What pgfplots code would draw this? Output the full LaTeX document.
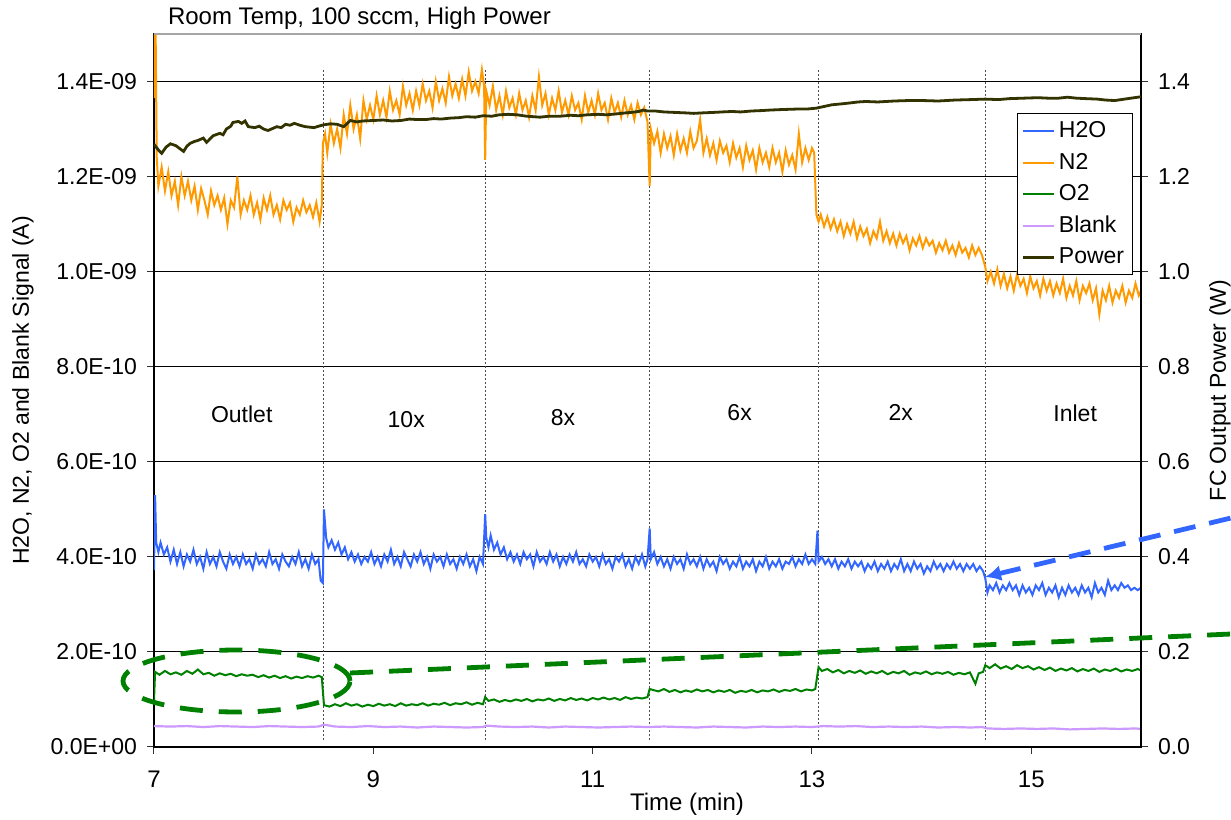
\documentclass[border=0pt]{standalone}
\usepackage{pgfplots}
\pgfplotsset{compat=1.18}
\usepackage{fontspec}
\setmainfont{Liberation Sans}
\usetikzlibrary{arrows.meta}
\definecolor{h2o}{RGB}{51,102,255}
\definecolor{n2}{RGB}{255,153,0}
\definecolor{o2}{RGB}{0,128,0}
\definecolor{blank}{RGB}{204,153,255}
\definecolor{power}{RGB}{51,51,0}
\newcommand{\fs}[1]{\fontsize{#1}{#1}\selectfont}
\begin{document}
\begin{tikzpicture}
\begin{axis}[
  scale only axis, width=493.5pt, height=356.5pt,
  xmin=7, xmax=16, ymin=0, ymax=15,
  xtick={7,9,11,13,15}, xticklabels={7,9,11,13,15},
  ytick={0,2,4,6,8,10,12,14},
  yticklabels={0.0E+00,2.0E-10,4.0E-10,6.0E-10,8.0E-10,1.0E-09,1.2E-09,1.4E-09},
  xtick pos=bottom, ytick pos=left,
  tick align=outside, major tick length=3.5pt,
  tick style={black!80, line width=0.5pt},
  ymajorgrids, grid style={black, line width=0.5pt},
  axis line style={black, line width=0.7pt},
  yticklabel style={font=\fs{11.5}, xshift=-1.5pt},
  xticklabel style={font=\fs{12}, yshift=-5pt},
  clip=true,
]
% dotted separators
\draw[black!70, line width=0.5pt, dash pattern=on 0.8pt off 1.2pt] (axis cs:8.55,0.15) -- (axis cs:8.55,14.26);
\draw[black!70, line width=0.5pt, dash pattern=on 0.8pt off 1.2pt] (axis cs:10.02,0.15) -- (axis cs:10.02,14.26);
\draw[black!70, line width=0.5pt, dash pattern=on 0.8pt off 1.2pt] (axis cs:11.52,0.15) -- (axis cs:11.52,14.26);
\draw[black!70, line width=0.5pt, dash pattern=on 0.8pt off 1.2pt] (axis cs:13.06,0.15) -- (axis cs:13.06,14.26);
\draw[black!70, line width=0.5pt, dash pattern=on 0.8pt off 1.2pt] (axis cs:14.58,0.15) -- (axis cs:14.58,14.26);
% Blank
\addplot[blank, line width=1.1pt] coordinates {
(7.00,0.44) (7.15,0.43) (7.30,0.44) (7.45,0.42) (7.60,0.44) (7.75,0.43) (7.90,0.42) (8.05,0.44) (8.20,0.43) (8.35,0.42) (8.50,0.43)
(8.55,0.47) (8.65,0.43) (8.80,0.42) (8.95,0.44) (9.10,0.42) (9.25,0.43) (9.40,0.41) (9.55,0.43) (9.70,0.42) (9.85,0.41) (10.00,0.42)
(10.03,0.45) (10.15,0.43) (10.30,0.42) (10.45,0.43) (10.60,0.41) (10.75,0.43) (10.90,0.42) (11.05,0.41) (11.20,0.42) (11.35,0.43) (11.50,0.42)
(11.65,0.43) (11.80,0.42) (11.95,0.41) (12.10,0.43) (12.25,0.42) (12.40,0.41) (12.55,0.43) (12.70,0.42) (12.85,0.43) (13.00,0.42)
(13.10,0.44) (13.25,0.43) (13.40,0.44) (13.55,0.42) (13.70,0.43) (13.85,0.42) (14.00,0.43) (14.15,0.41) (14.30,0.42) (14.45,0.41) (14.55,0.42)
(14.60,0.39) (14.75,0.38) (14.90,0.39) (15.05,0.38) (15.20,0.39) (15.35,0.37) (15.50,0.38) (15.65,0.39) (15.80,0.38) (15.95,0.39) (16.00,0.38)
};
% O2
\addplot[o2, line width=1pt] coordinates {
(7.00,0.98) (7.01,1.58) (7.05,1.52) (7.10,1.60) (7.15,1.53) (7.20,1.57) (7.25,1.52) (7.30,1.60) (7.35,1.54) (7.40,1.63) (7.45,1.53)
(7.50,1.56) (7.55,1.50) (7.60,1.55) (7.65,1.51) (7.70,1.54) (7.75,1.49) (7.80,1.53) (7.85,1.50) (7.90,1.52) (7.95,1.47) (8.00,1.51)
(8.05,1.46) (8.10,1.50) (8.15,1.45) (8.20,1.49) (8.25,1.44) (8.30,1.48) (8.35,1.45) (8.40,1.49) (8.45,1.46) (8.50,1.50) (8.53,1.47)
(8.55,0.88) (8.60,0.85) (8.65,0.90) (8.70,0.86) (8.75,0.92) (8.80,0.87) (8.85,0.90) (8.90,0.85) (8.95,0.89) (9.00,0.86) (9.05,0.91)
(9.10,0.87) (9.15,0.90) (9.20,0.86) (9.25,0.92) (9.30,0.87) (9.35,0.90) (9.40,0.88) (9.45,0.92) (9.50,0.87) (9.55,0.91) (9.60,0.89)
(9.65,0.93) (9.70,0.88) (9.75,0.92) (9.80,0.90) (9.85,0.94) (9.90,0.89) (9.95,0.93) (10.00,0.90)
(10.02,1.05) (10.05,0.97) (10.10,1.00) (10.15,0.95) (10.20,0.99) (10.25,0.96) (10.30,1.00) (10.35,0.97) (10.40,1.01) (10.45,0.96)
(10.50,1.00) (10.55,0.98) (10.60,1.02) (10.65,0.97) (10.70,1.01) (10.75,0.98) (10.80,1.03) (10.85,0.99) (10.90,1.02) (10.95,0.98)
(11.00,1.03) (11.05,1.00) (11.10,1.04) (11.15,1.00) (11.20,1.03) (11.25,0.99) (11.30,1.05) (11.35,1.01) (11.40,1.04) (11.45,1.02) (11.50,1.05)
(11.52,1.22) (11.55,1.20) (11.60,1.17) (11.65,1.22) (11.70,1.16) (11.75,1.20) (11.80,1.15) (11.85,1.19) (11.90,1.16) (11.95,1.21)
(12.00,1.17) (12.05,1.20) (12.10,1.15) (12.15,1.19) (12.20,1.16) (12.25,1.20) (12.30,1.14) (12.35,1.18) (12.40,1.16) (12.45,1.20)
(12.50,1.15) (12.55,1.19) (12.60,1.17) (12.65,1.21) (12.70,1.16) (12.75,1.20) (12.80,1.18) (12.85,1.22) (12.90,1.17) (12.95,1.21) (13.00,1.19) (13.03,1.22)
(13.06,1.68) (13.09,1.60) (13.14,1.64) (13.19,1.57) (13.24,1.62) (13.29,1.55) (13.34,1.60) (13.39,1.56) (13.44,1.61) (13.49,1.54)
(13.54,1.59) (13.59,1.55) (13.64,1.60) (13.69,1.53) (13.74,1.58) (13.79,1.55) (13.84,1.60) (13.89,1.52) (13.94,1.57) (13.99,1.54)
(14.04,1.59) (14.09,1.53) (14.14,1.57) (14.19,1.54) (14.24,1.58) (14.29,1.52) (14.34,1.56) (14.39,1.53) (14.44,1.57) (14.49,1.33) (14.52,1.55) (14.56,1.58)
(14.58,1.72) (14.62,1.66) (14.67,1.74) (14.72,1.65) (14.77,1.70) (14.82,1.64) (14.87,1.72) (14.92,1.66) (14.97,1.70) (15.02,1.63)
(15.07,1.68) (15.12,1.62) (15.17,1.67) (15.22,1.60) (15.27,1.65) (15.32,1.61) (15.37,1.66) (15.42,1.59) (15.47,1.64) (15.52,1.60)
(15.57,1.65) (15.62,1.58) (15.67,1.63) (15.72,1.60) (15.77,1.65) (15.82,1.59) (15.87,1.63) (15.92,1.60) (15.97,1.64) (16.00,1.61)
};
% H2O
\addplot[h2o, line width=1pt] coordinates {
(7.00,3.72) (7.01,5.30) (7.02,4.30) (7.04,4.10) (7.06,4.30) (7.09,4.05) (7.12,4.20) (7.15,3.90) (7.18,4.15) (7.21,3.85) (7.24,4.10)
(7.27,3.80) (7.30,4.05) (7.33,3.90) (7.36,4.15) (7.39,3.85) (7.42,4.00) (7.45,3.75) (7.48,4.10) (7.51,3.85) (7.54,4.00) (7.57,3.80)
(7.60,4.10) (7.63,3.90) (7.66,3.75) (7.69,4.05) (7.72,3.85) (7.75,4.00) (7.78,3.80) (7.81,4.05) (7.84,3.85) (7.87,3.95) (7.90,3.75)
(7.93,4.05) (7.96,3.85) (7.99,3.95) (8.02,3.80) (8.05,4.10) (8.08,3.85) (8.11,3.95) (8.14,3.75) (8.17,4.05) (8.20,3.90) (8.23,3.80)
(8.26,4.00) (8.29,3.85) (8.32,4.10) (8.35,3.80) (8.38,3.95) (8.41,3.75) (8.44,4.05) (8.47,3.85) (8.50,3.95) (8.52,3.50)
(8.54,3.45) (8.55,5.00) (8.57,4.40) (8.59,4.20) (8.62,4.35) (8.65,4.15) (8.68,4.30) (8.71,4.05) (8.74,4.20) (8.77,3.95) (8.80,4.10)
(8.83,3.90) (8.86,4.05) (8.89,3.85) (8.92,4.00) (8.95,3.90) (8.98,4.10) (9.01,3.85) (9.04,4.00) (9.07,3.80) (9.10,4.05) (9.13,3.90)
(9.16,4.15) (9.19,3.85) (9.22,4.00) (9.25,3.80) (9.28,4.10) (9.31,3.95) (9.34,3.80) (9.37,4.05) (9.40,3.90) (9.43,4.10) (9.46,3.85)
(9.49,4.00) (9.52,3.75) (9.55,4.05) (9.58,3.90) (9.61,4.00) (9.64,3.80) (9.67,4.05) (9.70,3.85) (9.73,3.95) (9.76,3.75) (9.79,4.00)
(9.82,3.85) (9.85,4.05) (9.88,3.80) (9.91,3.95) (9.94,3.70) (9.97,4.00) (10.00,3.85)
(10.02,4.90) (10.03,4.40) (10.05,4.20) (10.07,4.45) (10.10,4.15) (10.13,4.30) (10.16,4.05) (10.19,4.20) (10.22,3.95) (10.25,4.10)
(10.28,3.90) (10.31,4.05) (10.34,3.85) (10.37,4.10) (10.40,3.95) (10.43,4.05) (10.46,3.80) (10.49,4.10) (10.52,3.90) (10.55,4.00)
(10.58,3.85) (10.61,4.10) (10.64,3.90) (10.67,4.05) (10.70,3.80) (10.73,4.00) (10.76,3.85) (10.79,4.05) (10.82,3.90) (10.85,4.10)
(10.88,3.85) (10.91,3.95) (10.94,3.80) (10.97,4.05) (11.00,3.90) (11.03,4.00) (11.06,3.80) (11.09,4.05) (11.12,3.85) (11.15,3.95)
(11.18,3.75) (11.21,4.00) (11.24,3.90) (11.27,4.05) (11.30,3.80) (11.33,3.95) (11.36,3.75) (11.39,4.00) (11.42,3.85) (11.45,4.05) (11.48,3.80) (11.50,3.95)
(11.52,4.60) (11.53,3.95) (11.56,4.10) (11.59,3.85) (11.62,4.00) (11.65,3.80) (11.68,3.95) (11.71,3.75) (11.74,4.00) (11.77,3.85)
(11.80,3.95) (11.83,3.75) (11.86,4.05) (11.89,3.85) (11.92,3.95) (11.95,3.80) (11.98,4.00) (12.01,3.75) (12.04,3.95) (12.07,3.80)
(12.10,3.90) (12.13,3.70) (12.16,4.00) (12.19,3.85) (12.22,3.95) (12.25,3.75) (12.28,3.90) (12.31,3.80) (12.34,4.00) (12.37,3.75)
(12.40,3.90) (12.43,3.80) (12.46,3.95) (12.49,3.70) (12.52,3.90) (12.55,3.80) (12.58,4.00) (12.61,3.75) (12.64,3.90) (12.67,3.80)
(12.70,3.95) (12.73,3.75) (12.76,3.90) (12.79,3.85) (12.82,4.00) (12.85,3.80) (12.88,3.95) (12.91,3.85) (12.94,4.05) (12.97,3.85) (13.00,3.95) (13.03,3.85)
(13.05,4.55) (13.06,3.90) (13.09,4.00) (13.12,3.85) (13.15,3.95) (13.18,3.80) (13.21,3.95) (13.24,3.75) (13.27,3.90) (13.30,3.80)
(13.33,3.95) (13.36,3.75) (13.39,3.90) (13.42,3.80) (13.45,3.90) (13.48,3.70) (13.51,3.85) (13.54,3.75) (13.57,3.90) (13.60,3.70)
(13.63,3.85) (13.66,3.75) (13.69,3.90) (13.72,3.70) (13.75,3.85) (13.78,3.75) (13.81,3.95) (13.84,3.70) (13.87,3.85) (13.90,3.70)
(13.93,3.90) (13.96,3.75) (13.99,3.85) (14.02,3.65) (14.05,3.80) (14.08,3.70) (14.11,3.90) (14.14,3.75) (14.17,3.85) (14.20,3.70)
(14.23,3.85) (14.26,3.75) (14.29,3.90) (14.32,3.75) (14.35,3.85) (14.38,3.70) (14.41,3.85) (14.44,3.75) (14.47,3.85) (14.50,3.70) (14.53,3.80) (14.56,3.70)
(14.58,3.55) (14.60,3.25) (14.62,3.40) (14.65,3.30) (14.68,3.45) (14.71,3.25) (14.74,3.40) (14.77,3.30) (14.80,3.45) (14.83,3.30)
(14.86,3.40) (14.89,3.20) (14.92,3.40) (14.95,3.25) (14.98,3.35) (15.01,3.20) (15.04,3.40) (15.07,3.30) (15.10,3.45) (15.13,3.20)
(15.16,3.35) (15.19,3.25) (15.22,3.40) (15.25,3.15) (15.28,3.35) (15.31,3.20) (15.34,3.40) (15.37,3.25) (15.40,3.35) (15.43,3.20)
(15.46,3.40) (15.49,3.25) (15.52,3.35) (15.55,3.15) (15.58,3.45) (15.61,3.25) (15.64,3.35) (15.67,3.20) (15.70,3.50) (15.73,3.30)
(15.76,3.40) (15.79,3.30) (15.82,3.45) (15.85,3.35) (15.88,3.40) (15.91,3.30) (15.94,3.35) (15.97,3.30) (16.00,3.35)
};
% N2
\addplot[n2, line width=1pt] coordinates {
(7.00,13.65) (7.012,15.80) (7.025,12.40) (7.04,11.80) (7.07,12.20) (7.10,11.70) (7.13,12.10) (7.16,11.60) (7.19,11.90) (7.22,11.40)
(7.25,12.00) (7.28,11.60) (7.31,11.90) (7.34,11.50) (7.37,11.80) (7.40,11.30) (7.43,11.75) (7.46,11.50) (7.49,11.20) (7.52,11.70)
(7.55,11.40) (7.58,11.60) (7.61,11.30) (7.64,11.55) (7.67,11.00) (7.70,11.50) (7.73,11.35) (7.76,12.00) (7.79,11.20) (7.82,11.50)
(7.85,11.30) (7.88,11.60) (7.91,11.20) (7.94,11.45) (7.97,11.10) (8.00,11.55) (8.03,11.30) (8.06,11.60) (8.09,11.20) (8.12,11.40)
(8.15,11.10) (8.18,11.50) (8.21,11.30) (8.24,11.45) (8.27,11.05) (8.30,11.35) (8.33,11.20) (8.36,11.50) (8.39,11.25) (8.42,11.40)
(8.45,11.15) (8.48,11.45) (8.51,11.05)
(8.53,11.40) (8.54,12.70) (8.56,12.90) (8.58,12.50) (8.61,13.10) (8.64,12.70) (8.67,13.00) (8.70,12.60) (8.73,13.30) (8.76,12.90)
(8.79,13.50) (8.82,13.00) (8.85,13.30) (8.88,12.80) (8.91,13.60) (8.94,13.20) (8.97,13.50) (9.00,13.20) (9.03,13.70) (9.06,13.30)
(9.09,13.60) (9.12,13.25) (9.15,13.80) (9.18,13.40) (9.21,13.60) (9.24,13.30) (9.27,13.90) (9.30,13.50) (9.33,13.75) (9.36,13.40)
(9.39,13.80) (9.42,13.50) (9.45,13.95) (9.48,13.60) (9.51,13.80) (9.54,13.45) (9.57,14.00) (9.60,13.60) (9.63,13.85) (9.66,13.55)
(9.69,14.10) (9.72,13.70) (9.75,13.95) (9.78,13.65) (9.81,14.05) (9.84,13.70) (9.87,14.20) (9.90,13.80) (9.93,14.00) (9.96,13.75)
(9.99,14.25) (10.01,13.90)
(10.02,12.35) (10.03,13.80) (10.06,13.50) (10.09,13.90) (10.12,13.40) (10.15,13.70) (10.18,13.30) (10.21,13.80) (10.24,13.45) (10.27,13.65)
(10.30,13.30) (10.33,13.75) (10.36,13.40) (10.39,13.60) (10.42,13.25) (10.45,13.70) (10.48,13.40) (10.51,14.10) (10.54,13.50) (10.57,13.75)
(10.60,13.30) (10.63,13.65) (10.66,13.40) (10.69,13.80) (10.72,13.35) (10.75,13.60) (10.78,13.30) (10.81,13.70) (10.84,13.40) (10.87,13.55)
(10.90,13.20) (10.93,13.70) (10.96,13.35) (10.99,13.60) (11.02,13.30) (11.05,13.75) (11.08,13.40) (11.11,13.55) (11.14,13.20) (11.17,13.65)
(11.20,13.35) (11.23,13.55) (11.26,13.25) (11.29,13.60) (11.32,13.30) (11.35,13.50) (11.38,13.20) (11.41,13.55) (11.44,13.30) (11.47,13.45) (11.50,13.15)
(11.52,11.80) (11.53,13.00) (11.56,12.70) (11.59,12.95) (11.62,12.50) (11.65,12.90) (11.68,12.60) (11.71,12.85) (11.74,12.45) (11.77,12.90)
(11.80,12.55) (11.83,12.80) (11.86,12.50) (11.89,12.95) (11.92,12.60) (11.95,12.75) (11.98,13.20) (12.01,12.50) (12.04,12.80) (12.07,12.45)
(12.10,12.70) (12.13,12.35) (12.16,12.75) (12.19,12.50) (12.22,12.65) (12.25,12.30) (12.28,12.70) (12.31,12.40) (12.34,12.60) (12.37,12.20)
(12.40,12.65) (12.43,12.35) (12.46,12.55) (12.49,12.15) (12.52,12.60) (12.55,12.30) (12.58,12.50) (12.61,12.20) (12.64,12.60) (12.67,12.30)
(12.70,12.50) (12.73,12.10) (12.76,12.55) (12.79,12.25) (12.82,12.45) (12.85,12.15) (12.88,12.90) (12.91,12.30) (12.94,12.60) (12.97,12.35) (13.00,12.60) (13.02,12.50)
(13.04,11.20) (13.06,11.05) (13.08,11.20) (13.11,10.95) (13.14,11.15) (13.17,10.90) (13.20,11.10) (13.23,10.85) (13.26,11.05) (13.29,10.75)
(13.32,11.00) (13.35,10.80) (13.38,11.05) (13.41,10.70) (13.44,10.95) (13.47,10.75) (13.50,10.90) (13.53,10.60) (13.56,10.85) (13.59,10.70)
(13.62,11.05) (13.65,10.65) (13.68,10.85) (13.71,10.60) (13.74,10.80) (13.77,10.55) (13.80,10.80) (13.83,10.60) (13.86,10.75) (13.89,10.45)
(13.92,10.70) (13.95,10.55) (13.98,10.75) (14.01,10.50) (14.04,10.70) (14.07,10.55) (14.10,10.65) (14.13,10.40) (14.16,10.60) (14.19,10.45)
(14.22,10.65) (14.25,10.40) (14.28,10.55) (14.31,10.35) (14.34,10.60) (14.37,10.40) (14.40,10.50) (14.43,10.30) (14.46,10.55) (14.49,10.35) (14.52,10.50) (14.55,10.35)
(14.58,10.10) (14.60,9.80) (14.63,10.00) (14.66,9.75) (14.69,10.05) (14.72,9.70) (14.75,9.95) (14.78,9.65) (14.81,9.90) (14.84,9.60)
(14.87,9.95) (14.90,9.70) (14.93,9.85) (14.96,9.55) (14.99,9.90) (15.02,9.65) (15.05,9.80) (15.08,9.50) (15.11,9.85) (15.14,9.60)
(15.17,9.80) (15.20,9.50) (15.23,9.75) (15.26,9.55) (15.29,9.85) (15.32,9.45) (15.35,9.70) (15.38,9.50) (15.41,9.80) (15.44,9.40)
(15.47,9.70) (15.50,9.55) (15.53,9.75) (15.56,9.40) (15.59,9.65) (15.62,9.10) (15.65,9.60) (15.68,9.40) (15.71,9.70) (15.74,9.35)
(15.77,9.60) (15.80,9.45) (15.83,9.70) (15.86,9.35) (15.89,9.60) (15.92,9.45) (15.95,9.75) (15.98,9.50) (16.00,9.60)
};
% segment labels
\node[font=\fs{11.5}] at (axis cs:7.80,7.00) {Outlet};
\node[font=\fs{11.5}] at (axis cs:9.30,6.88) {10x};
\node[font=\fs{11.5}] at (axis cs:10.73,6.94) {8x};
\node[font=\fs{11.5}] at (axis cs:12.34,7.03) {6x};
\node[font=\fs{11.5}] at (axis cs:13.81,7.03) {2x};
\node[font=\fs{11.5}] at (axis cs:15.40,7.03) {Inlet};
\end{axis}
\begin{axis}[
  scale only axis, width=493.5pt, height=356.5pt,
  xmin=7, xmax=16, ymin=0, ymax=1.5,
  hide x axis,
  axis y line*=right,
  axis line style={black, line width=0.7pt},
  ytick={0,0.2,0.4,0.6,0.8,1.0,1.2,1.4},
  yticklabels={0.0,0.2,0.4,0.6,0.8,1.0,1.2,1.4},
  tick align=outside, major tick length=3.5pt,
  tick style={black!80, line width=0.5pt},
  yticklabel style={font=\fs{11.5}, xshift=1.5pt},
  legend style={at={(0.874,0.889)}, anchor=north west, draw=black, line width=0.5pt,
    fill=white, font=\fs{11.5}, inner xsep=2pt, inner ysep=2pt, row sep=2.2pt,
    cells={anchor=west}},
  legend image code/.code={\draw[#1] (0pt,0pt) -- (15.5pt,0pt);},
]
\addlegendimage{h2o, line width=1pt}\addlegendentry{H2O}
\addlegendimage{n2, line width=1pt}\addlegendentry{N2}
\addlegendimage{o2, line width=1pt}\addlegendentry{O2}
\addlegendimage{blank, line width=1pt}\addlegendentry{Blank}
\addplot[power, line width=1.4pt] coordinates {
(7.00,1.268) (7.04,1.256) (7.07,1.249) (7.11,1.262) (7.15,1.269) (7.20,1.265) (7.24,1.258) (7.27,1.253) (7.30,1.264) (7.33,1.270)
(7.37,1.274) (7.40,1.276) (7.45,1.281) (7.48,1.272) (7.51,1.279) (7.54,1.286) (7.60,1.291) (7.63,1.288) (7.66,1.300) (7.70,1.306)
(7.72,1.314) (7.77,1.316) (7.80,1.312) (7.83,1.317) (7.86,1.305) (7.92,1.303) (7.96,1.306) (8.00,1.300) (8.04,1.297) (8.08,1.301)
(8.12,1.305) (8.16,1.303) (8.20,1.310) (8.24,1.308) (8.28,1.312) (8.33,1.308) (8.38,1.305) (8.42,1.304) (8.46,1.303) (8.50,1.306)
(8.55,1.309) (8.61,1.311) (8.67,1.310) (8.73,1.305) (8.79,1.318) (8.85,1.315) (8.90,1.317) (9.00,1.318) (9.09,1.319) (9.17,1.317)
(9.25,1.318) (9.33,1.321) (9.40,1.320) (9.48,1.320) (9.55,1.322) (9.62,1.321) (9.70,1.323) (9.78,1.324) (9.85,1.326) (9.93,1.325)
(10.00,1.328) (10.08,1.327) (10.15,1.330) (10.23,1.331) (10.31,1.330) (10.40,1.327) (10.52,1.325) (10.60,1.327) (10.70,1.327) (10.80,1.329)
(10.87,1.328) (10.95,1.330) (11.05,1.331) (11.13,1.330) (11.22,1.332) (11.30,1.334) (11.35,1.335) (11.42,1.337) (11.46,1.340) (11.50,1.338)
(11.57,1.338) (11.65,1.336) (11.75,1.335) (11.85,1.334) (11.92,1.333) (12.00,1.334) (12.10,1.335) (12.18,1.336) (12.27,1.337) (12.35,1.336)
(12.45,1.338) (12.55,1.339) (12.62,1.340) (12.72,1.341) (12.85,1.342) (12.95,1.342) (13.04,1.344) (13.10,1.347) (13.18,1.351) (13.27,1.353)
(13.35,1.355) (13.42,1.357) (13.49,1.358) (13.60,1.357) (13.75,1.359) (13.88,1.360) (14.01,1.360) (14.15,1.359) (14.30,1.361) (14.45,1.362)
(14.58,1.363) (14.70,1.362) (14.80,1.364) (14.93,1.365) (15.06,1.366) (15.15,1.365) (15.25,1.365) (15.33,1.367) (15.41,1.365) (15.50,1.364)
(15.60,1.363) (15.68,1.361) (15.76,1.360) (15.82,1.362) (15.88,1.364) (15.94,1.366) (16.00,1.368)
};
\addlegendentry{Power}
\end{axis}
% top border (gray)
\draw[black!35, line width=1pt] (0pt,356.5pt) -- (493.5pt,356.5pt);
% title and axis labels
\node[anchor=base west, font=\fs{12}] at (3.5pt,361pt) {Room Temp, 100 sccm, High Power};
\node[font=\fs{12}] at (266.5pt,-28.5pt) {Time (min)};
\node[font=\fs{11.5}, rotate=90] at (-65.5pt,178.25pt) {H2O, N2, O2 and Blank Signal (A)};
\node[font=\fs{11.5}, rotate=90] at (533pt,178.25pt) {FC Output Power (W)};
% annotations
\draw[o2, line width=2.4pt, dash pattern=on 11.5pt off 8pt] (41.25pt,33pt) ellipse [x radius=56.75pt, y radius=15.5pt];
\draw[o2, line width=2.4pt, dash pattern=on 11.5pt off 8pt] (98pt,37pt) -- (538.5pt,56.5pt);
\draw[h2o, line width=2.4pt, dash pattern=on 11pt off 7pt, {Latex[length=8pt,width=8pt]}-] (415.5pt,85pt) -- (538.5pt,114.5pt);
\pgfresetboundingbox
\path (-77pt,-36pt) rectangle (538.5pt,373.5pt);
\end{tikzpicture}
\end{document}
